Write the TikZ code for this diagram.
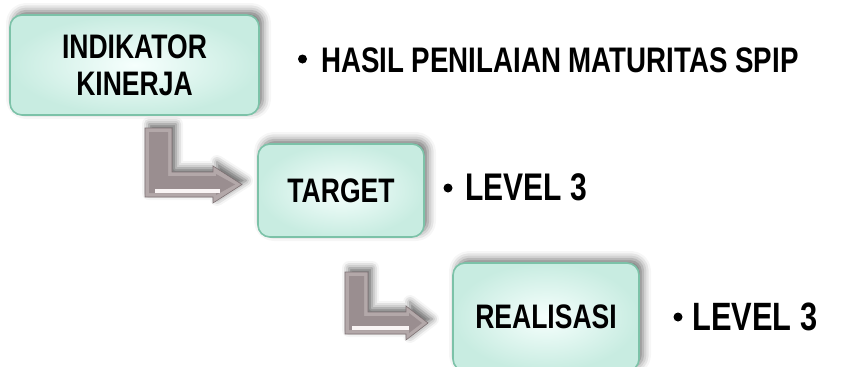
\documentclass[tikz,border=0pt]{standalone}
\usepackage{fontspec}
\setmainfont{Liberation Sans}[FakeStretch=0.78]
\usetikzlibrary{shadows.blur}

\definecolor{boxline}{HTML}{7CC2A8}
\definecolor{boxouter}{HTML}{C8ECE1}
\definecolor{boxinner}{HTML}{F6FFFD}
\definecolor{bentlight}{HTML}{B3A8A9}
\definecolor{bentfill}{HTML}{9A8E90}
\definecolor{bentedge}{HTML}{7E7274}

\tikzset{
  stage/.style={draw=boxline, line width=1.6pt, rounded corners=12pt,
    inner color=boxinner, outer color=boxouter, inner sep=0pt, align=center,
    blur shadow={shadow xshift=4pt, shadow yshift=4pt, shadow blur radius=8pt, shadow opacity=55},
    font=\fontsize{34}{37}\selectfont\bfseries},
  point/.style={anchor=base west, inner sep=0pt},
  dot/.style={fill=black, circle, inner sep=0pt, minimum size=9pt},
  bent/.style={fill=bentlight, draw=bentedge, line width=0.6pt, line join=miter,
    blur shadow={shadow xshift=4pt, shadow yshift=4pt, shadow blur radius=7pt, shadow opacity=60}},
  bentface/.style={fill=bentfill},
  glint/.style={white!92!pink, line width=4pt, opacity=0.95}
}

\begin{document}
\begin{tikzpicture}[x=1pt, y=-1pt]
\useasboundingbox (0,0) rectangle (852,367);

% boxes
\node[stage, minimum width=249pt, minimum height=100pt] (indikator) at (134.5,65) {INDIKATOR\\KINERJA};
\node[stage, minimum width=166pt, minimum height=93pt] (target) at (341,190.5) {TARGET};
\node[stage, minimum width=186pt, minimum height=108pt] (realisasi) at (546,317) {REALISASI};

% bent arrows
\draw[bent] (145,128) -- (172,128) -- (172,172) -- (213,172) -- (213,166) -- (242,184.5)
  -- (213,203) -- (213,197) -- (145,197) -- cycle;
\fill[bentface] (149,132) -- (168,132) -- (168,176) -- (216,176) -- (216,174) -- (235,184.5)
  -- (216,195) -- (216,193) -- (149,193) -- cycle;
\draw[glint] (155,190.5) -- (220,190.5);
\draw[bent] (345,272) -- (368,272) -- (368,312) -- (406,312) -- (406,306) -- (428,323)
  -- (406,340) -- (406,334) -- (345,334) -- cycle;
\fill[bentface] (349,276) -- (364,276) -- (364,316) -- (409,316) -- (409,313) -- (422,323)
  -- (409,333) -- (409,330) -- (349,330) -- cycle;
\draw[glint] (352,328) -- (409,328);

% bullet texts
\node[dot] (hasil dot) at (302.5,59) {};
\node[point, font=\fontsize{35.5}{40}\selectfont\bfseries] (hasil) at (321,72) {HASIL PENILAIAN MATURITAS SPIP};
\node[dot] (target dot) at (448,188) {};
\node[point, font=\fontsize{38.5}{40}\selectfont\bfseries] (target level) at (465,200) {LEVEL 3};
\node[dot] (realisasi dot) at (678,317) {};
\node[point, font=\fontsize{39.5}{40}\selectfont\bfseries] (realisasi level) at (692,330) {LEVEL 3};
\end{tikzpicture}
\end{document}
